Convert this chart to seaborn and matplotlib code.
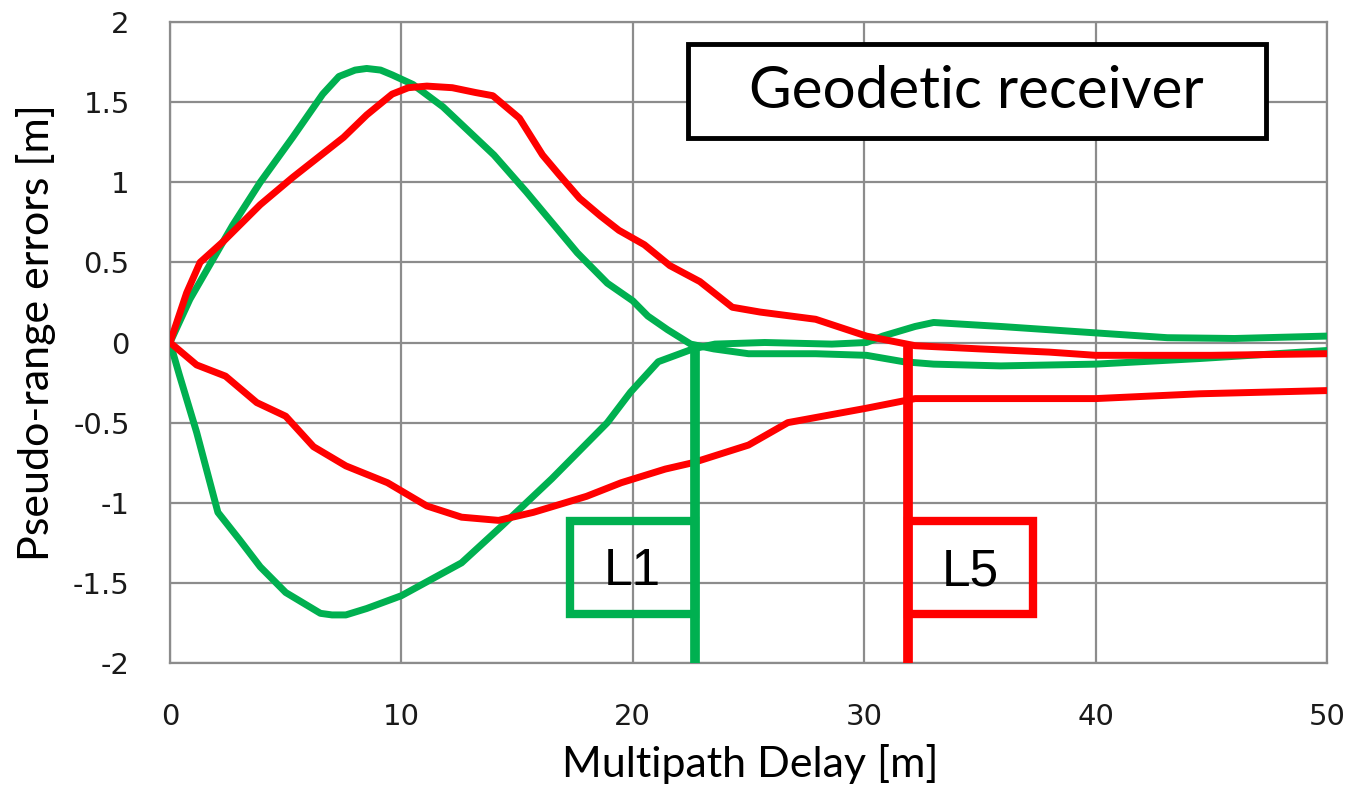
import matplotlib
matplotlib.use("Agg")
import matplotlib.pyplot as plt
import seaborn as sns
import pandas as pd
from matplotlib.patches import Rectangle

# ---- data ----
l1_pos_x = [0, 0.86, 1.7, 2.7, 3.9, 5.3, 6.6, 7.3, 8.0, 8.5, 9.1, 9.6, 10.5, 11.8, 14.0, 15.4,
            17.6, 18.9, 20.0, 20.65, 21.5, 22.5, 23.5, 25, 27.9, 30.1, 31.7, 33, 35.9, 40, 44.5, 50]
l1_pos_y = [0, 0.27, 0.48, 0.73, 1.0, 1.28, 1.55, 1.66, 1.70, 1.71, 1.70, 1.67, 1.61, 1.47, 1.17,
            0.94, 0.56, 0.37, 0.26, 0.165, 0.08, -0.01, -0.04, -0.07, -0.07, -0.08, -0.12, -0.135,
            -0.146, -0.135, -0.10, -0.05]

l1_neg_x = [0, 0.4, 1.15, 2.07, 3.0, 3.9, 5.0, 6.5, 7.0, 7.6, 8.5, 10.0, 12.6, 14.3, 16.5, 18.9,
            19.9, 21.1, 22.6, 23.55, 25.7, 28.6, 30.1, 30.8, 32.2, 33.0, 35.9, 40, 43.1, 46, 50]
l1_neg_y = [0, -0.2, -0.56, -1.06, -1.23, -1.40, -1.56, -1.69, -1.70, -1.70, -1.66, -1.58, -1.375,
            -1.15, -0.85, -0.50, -0.31, -0.12, -0.04, -0.01, 0.0, -0.01, 0.0, 0.04, 0.10, 0.125,
            0.10, 0.06, 0.03, 0.025, 0.04]

l5_pos_x = [0, 0.72, 1.3, 2.3, 3.9, 5.3, 7.5, 8.5, 9.6, 10.3, 11.1, 12.2, 13.2, 13.95, 15.1, 16.1,
            16.8, 17.7, 18.6, 19.4, 20.5, 21.6, 22.9, 24.3, 25.5, 27.9, 30.1, 32.2, 35, 38, 40, 45, 50]
l5_pos_y = [0, 0.31, 0.5, 0.63, 0.86, 1.03, 1.28, 1.42, 1.55, 1.59, 1.60, 1.59, 1.56, 1.54, 1.40,
            1.17, 1.05, 0.90, 0.79, 0.70, 0.61, 0.48, 0.38, 0.22, 0.19, 0.145, 0.04, -0.02, -0.04,
            -0.06, -0.08, -0.08, -0.07]

l5_neg_x = [0, 1.15, 2.4, 3.75, 5.0, 6.2, 7.6, 9.4, 11.1, 12.6, 14.2, 15.7, 18.0, 19.5, 21.4,
            22.6, 25.0, 26.7, 30.1, 32.2, 33.1, 38, 40, 44.5, 50]
l5_neg_y = [0, -0.14, -0.21, -0.375, -0.46, -0.65, -0.77, -0.875, -1.02, -1.09, -1.11, -1.06,
            -0.96, -0.875, -0.79, -0.75, -0.64, -0.50, -0.41, -0.35, -0.35, -0.35, -0.35, -0.32,
            -0.30]

x_ticks = [0, 10, 20, 30, 40, 50]
x_tick_labels = ["0", "10", "20", "30", "40", "50"]
y_ticks = [2, 1.5, 1, 0.5, 0, -0.5, -1, -1.5, -2]
y_tick_labels = ["2", "1.5", "1", "0.5", "0", "-0.5", "-1", "-1.5", "-2"]

l1_delay = 22.7   # L1 envelope end
l5_delay = 31.9   # L5 envelope end
title_text = "Geodetic receiver"
x_label = "Multipath Delay [m]"
y_label = "Pseudo-range errors [m]"

GREEN = "#00B050"
RED = "#FF0000"
GRID = "#8C8C8C"

rows = []
for name, xs, ys in [("L1+", l1_pos_x, l1_pos_y), ("L1-", l1_neg_x, l1_neg_y),
                     ("L5+", l5_pos_x, l5_pos_y), ("L5-", l5_neg_x, l5_neg_y)]:
    for i, (a, b) in enumerate(zip(xs, ys)):
        rows.append({"series": name, "order": i, "delay": a, "err": b})
df = pd.DataFrame(rows)

sns.set_theme(style="white")
plt.rcParams["axes.unicode_minus"] = False

fig = plt.figure(figsize=(13.52, 7.89), dpi=100)
ax = fig.add_axes([170 / 1352, 1 - 663 / 789, (1327 - 170) / 1352, (663 - 22) / 789])

palette = {"L1+": GREEN, "L1-": GREEN, "L5+": RED, "L5-": RED}
sns.lineplot(data=df, x="delay", y="err", hue="series", units="series", estimator=None,
             sort=False, palette=palette, linewidth=5.0, legend=False, ax=ax,
             solid_joinstyle="round", solid_capstyle="round", zorder=3)

ax.set_xlim(0, 50)
ax.set_ylim(-2, 2)
ax.set_xticks(x_ticks)
ax.set_xticklabels(x_tick_labels, fontsize=21, family="DejaVu Sans", color="#1a1a1a")
ax.set_yticks(y_ticks)
ax.set_yticklabels(y_tick_labels, fontsize=21, family="DejaVu Sans", color="#1a1a1a")
ax.tick_params(axis="x", length=0, pad=29)
ax.tick_params(axis="y", length=0, pad=29)
ax.grid(True, color=GRID, linewidth=1.6, zorder=0)
ax.set_axisbelow(True)
for s in ax.spines.values():
    s.set_color(GRID)
    s.set_linewidth(1.6)

ax.set_xlabel("")
ax.set_ylabel("")
fig.text(750 / 1352, 1 - 764 / 789, x_label, ha="center", va="center", fontsize=31,
         family="Lato", color="black")
fig.text(36 / 1352, 1 - 333 / 789, y_label, ha="center", va="center", fontsize=31,
         family="Lato", rotation=90, color="black")

# Title box
ax.add_patch(Rectangle((22.39, 1.276), 47.36 - 22.39, 1.863 - 1.276, facecolor="white",
                       edgecolor="black", linewidth=3.5, zorder=6))
ax.text(34.85, 1.565, title_text, ha="center", va="center",
        fontsize=42, family="Lato", color="black", zorder=7)

# L1 / L5 markers
box_bottom, box_top = -1.694, -1.114
ax.vlines(l1_delay, -2, -0.03, color=GREEN, linewidth=7, zorder=4)
ax.add_patch(Rectangle((17.3, box_bottom), l1_delay - 17.3, box_top - box_bottom,
                       facecolor="none", edgecolor=GREEN, linewidth=6, zorder=4))
ax.text((17.3 + l1_delay) / 2, -1.43, "L1", ha="center", va="center", fontsize=37,
        family="Liberation Sans", color="black", zorder=5)

ax.vlines(l5_delay, -2, -0.03, color=RED, linewidth=7, zorder=4)
ax.add_patch(Rectangle((l5_delay, box_bottom), 37.3 - l5_delay, box_top - box_bottom,
                       facecolor="none", edgecolor=RED, linewidth=6, zorder=4))
ax.text((l5_delay + 37.3) / 2, -1.43, "L5", ha="center", va="center", fontsize=37,
        family="Liberation Sans", color="black", zorder=5)

fig.savefig("out.png", dpi=100)
